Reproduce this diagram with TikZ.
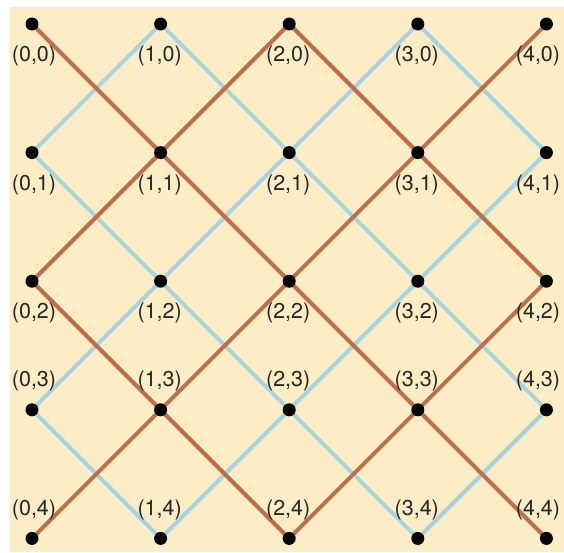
\documentclass[tikz,border=0pt]{standalone}
\usepackage{fontspec}
\setmainfont{TeX Gyre Heros}
\definecolor{bgc}{HTML}{FCEDC6}
\definecolor{brownl}{HTML}{BE6E48}
\definecolor{bluel}{HTML}{A9D3E0}
\pgfdeclarelayer{back}
\pgfdeclarelayer{lines}
\pgfsetlayers{back,lines,main}
\begin{document}
\begin{tikzpicture}[x=1pt,y=-1pt,
  dot/.style={circle,fill=black,inner sep=0pt,minimum size=13pt},
  lab/.style={inner sep=0pt,font=\fontsize{21.5}{25}\selectfont,text=black!85},
  bline/.style={draw=brownl,line width=4pt,line join=round},
  cline/.style={draw=bluel,line width=4pt,line join=round}]
\useasboundingbox (0,0) rectangle (564,552);
\begin{pgfonlayer}{back}
\fill[white] (0,0) rectangle (564,552);
\fill[bgc] (10,7) rectangle (564,552);
\end{pgfonlayer}
% dots
\foreach \c in {0,...,4}{
  \foreach \r in {0,...,4}{
    \node[dot] (d\c\r) at ({32+128.6*\c},{24+128.6*\r}) {};
  }
}
\begin{pgfonlayer}{lines}
% blue lines (odd parity)
\draw[cline] (d10.center) -- (d21.center) -- (d32.center) -- (d43.center);
\draw[cline] (d30.center) -- (d41.center);
\draw[cline] (d01.center) -- (d12.center) -- (d23.center) -- (d34.center);
\draw[cline] (d03.center) -- (d14.center);
\draw[cline] (d30.center) -- (d21.center) -- (d12.center) -- (d03.center);
\draw[cline] (d10.center) -- (d01.center);
\draw[cline] (d41.center) -- (d32.center) -- (d23.center) -- (d14.center);
\draw[cline] (d43.center) -- (d34.center);
% brown lines (even parity)
\draw[bline] (d00.center) -- (d11.center) -- (d22.center) -- (d33.center) -- (d44.center);
\draw[bline] (d20.center) -- (d31.center) -- (d42.center);
\draw[bline] (d02.center) -- (d13.center) -- (d24.center);
\draw[bline] (d40.center) -- (d31.center) -- (d22.center) -- (d13.center) -- (d04.center);
\draw[bline] (d20.center) -- (d11.center) -- (d02.center);
\draw[bline] (d42.center) -- (d33.center) -- (d24.center);
\end{pgfonlayer}
% labels
\foreach \c/\lx in {0/34,1/159.6,2/288.2,3/416.8,4/538}{
  \foreach \r/\ly in {0/56,1/184.6,2/313.2,3/381,4/509.6}{
    \node[lab] (l\c\r) at (\lx,\ly) {(\c,\r)};
  }
}
\end{tikzpicture}
\end{document}
